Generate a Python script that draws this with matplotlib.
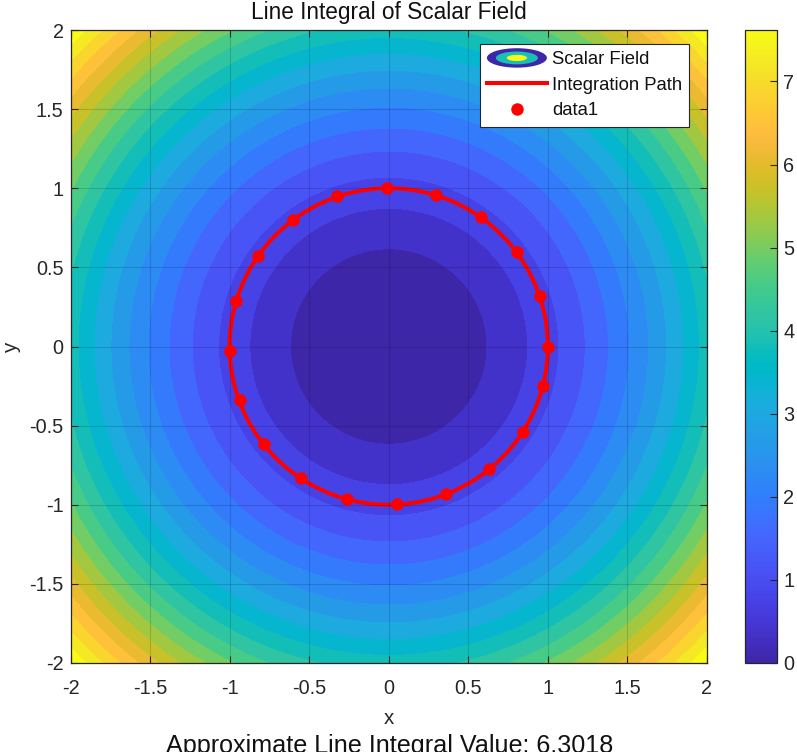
import numpy as np
import matplotlib
matplotlib.use("Agg")
import matplotlib.pyplot as plt
from matplotlib.colors import LinearSegmentedColormap, Normalize
from matplotlib.cm import ScalarMappable
from matplotlib.legend_handler import HandlerBase
from matplotlib.patches import Ellipse

plt.rcParams['font.family'] = ['Liberation Sans', 'DejaVu Sans']

PARULA = [
 (0.2422,0.1504,0.6603),(0.2504,0.1650,0.7076),(0.2578,0.1818,0.7511),(0.2647,0.1978,0.7952),
 (0.2706,0.2147,0.8364),(0.2751,0.2342,0.8710),(0.2783,0.2559,0.8991),(0.2803,0.2782,0.9221),
 (0.2813,0.3006,0.9414),(0.2810,0.3228,0.9579),(0.2795,0.3447,0.9717),(0.2760,0.3667,0.9829),
 (0.2699,0.3892,0.9906),(0.2602,0.4123,0.9952),(0.2440,0.4358,0.9988),(0.2206,0.4603,0.9973),
 (0.1963,0.4847,0.9892),(0.1834,0.5074,0.9798),(0.1786,0.5289,0.9682),(0.1764,0.5499,0.9520),
 (0.1687,0.5703,0.9359),(0.1540,0.5902,0.9218),(0.1460,0.6091,0.9079),(0.1380,0.6276,0.8973),
 (0.1248,0.6459,0.8883),(0.1113,0.6635,0.8763),(0.0952,0.6798,0.8598),(0.0689,0.6948,0.8394),
 (0.0297,0.7082,0.8163),(0.0036,0.7203,0.7917),(0.0067,0.7312,0.7660),(0.0433,0.7411,0.7394),
 (0.0964,0.7500,0.7120),(0.1408,0.7584,0.6842),(0.1717,0.7670,0.6554),(0.1938,0.7758,0.6251),
 (0.2161,0.7843,0.5923),(0.2470,0.7918,0.5567),(0.2906,0.7973,0.5188),(0.3406,0.8008,0.4789),
 (0.3909,0.8029,0.4354),(0.4456,0.8024,0.3909),(0.5044,0.7993,0.3480),(0.5616,0.7942,0.3045),
 (0.6174,0.7876,0.2612),(0.6720,0.7793,0.2227),(0.7242,0.7698,0.1910),(0.7738,0.7598,0.1646),
 (0.8203,0.7498,0.1535),(0.8634,0.7406,0.1596),(0.9035,0.7330,0.1774),(0.9393,0.7288,0.2100),
 (0.9728,0.7298,0.2394),(0.9956,0.7434,0.2371),(0.9970,0.7659,0.2199),(0.9952,0.7893,0.2028),
 (0.9892,0.8136,0.1885),(0.9786,0.8386,0.1766),(0.9676,0.8639,0.1643),(0.9610,0.8890,0.1537),
 (0.9597,0.9135,0.1423),(0.9628,0.9373,0.1265),(0.9691,0.9606,0.1064),(0.9769,0.9839,0.0805)]

# contour levels of the field (lower edge of each band)
levels = [0.0, 0.381, 0.762, 1.143, 1.524, 1.905, 2.286, 2.667, 3.048, 3.429, 3.810,
          4.190, 4.571, 4.952, 5.333, 5.714, 6.095, 6.476, 6.857, 7.238, 7.619]
field_max = 8.0
grid_x = np.linspace(-2, 2, 1201)
grid_y = np.linspace(-2, 2, 1201)

# sampled points on the path
point_x = [1.0, 0.95, 0.808, 0.582, 0.297, -0.013, -0.325, -0.603, -0.821, -0.957,
           -0.997, -0.936, -0.783, -0.553, -0.264, 0.05, 0.358, 0.632, 0.842, 0.969]
point_y = [0.0, 0.316, 0.597, 0.817, 0.957, 1.0, 0.948, 0.798, 0.572, 0.285,
           -0.029, -0.337, -0.613, -0.829, -0.961, -0.995, -0.93, -0.771, -0.538, -0.247]
path_radius = 1.0

x_ticks = [-2, -1.5, -1, -0.5, 0, 0.5, 1, 1.5, 2]
y_ticks = [-2, -1.5, -1, -0.5, 0, 0.5, 1, 1.5, 2]
tick_labels = ['-2', '-1.5', '-1', '-0.5', '0', '0.5', '1', '1.5', '2']
cbar_ticks = [0, 1, 2, 3, 4, 5, 6, 7]

W, H = 797, 752
DARK = '#262626'
TICK_FS = 14.3

fig = plt.figure(figsize=(W / 100, H / 100), dpi=100)
ax = fig.add_axes([70.5 / W, (H - 663) / H, 636.5 / W, 633 / H])

cmap = LinearSegmentedColormap.from_list('parula', PARULA, 256)
norm = Normalize(levels[0], levels[-1])

X, Y = np.meshgrid(grid_x, grid_y)
Z = X ** 2 + Y ** 2
band_colors = [cmap(norm(v)) for v in levels]
ax.contourf(X, Y, Z, levels=levels + [field_max], colors=band_colors, zorder=1)

theta = np.linspace(0, 2 * np.pi, 361)
ax.plot(path_radius * np.cos(theta), path_radius * np.sin(theta), color='#ff0000', lw=2.9, zorder=2,
        label='Integration Path')
ax.plot(point_x, point_y, 'o', color='#ff0000', ms=9, mew=0, zorder=3, label='data1')

ax.set_xlim(-2, 2)
ax.set_ylim(-2, 2)
ax.set_xticks(x_ticks, tick_labels)
ax.set_yticks(y_ticks, tick_labels)
ax.tick_params(direction='in', length=5, width=0.8, colors=DARK, labelsize=TICK_FS, top=True, right=True, pad=5)
ax.tick_params(axis='x', pad=11.5)
ax.set_axisbelow(False)
ax.grid(True, color='black', alpha=0.15, lw=0.75, zorder=4)
for s in ax.spines.values():
    s.set_linewidth(0.9)
    s.set_color(DARK)
    s.set_zorder(6)

ax.set_xlabel('x', fontsize=TICK_FS + 0.5, color=DARK, labelpad=8)
ax.set_ylabel('y', fontsize=TICK_FS + 0.5, color=DARK, labelpad=6)
ax.set_title('Line Integral of Scalar Field', fontsize=16.3, color='#111111', pad=8)

fig.text(389.5 / W, (H - 752.5) / H, 'Approximate Line Integral Value: 6.3018', fontsize=18.07,
         color='#111111', ha='center', va='baseline')

class ContourHandle:
    pass

class HandlerContour(HandlerBase):
    def create_artists(self, legend, orig, xd, yd, width, height, fontsize, trans):
        cx, cy = width / 2 - xd, height / 2 - yd
        arts = []
        for frac, fh, col in [(1.0, 1.0, PARULA[0]), (0.70, 0.66, PARULA[32]), (0.34, 0.32, PARULA[63])]:
            arts.append(Ellipse((cx, cy), width * frac, 14 * fh, facecolor=col, edgecolor='none', transform=trans))
        return arts

handles, labels = ax.get_legend_handles_labels()
leg = ax.legend([ContourHandle()] + handles, ['Scalar Field'] + labels,
                handler_map={ContourHandle: HandlerContour()},
                loc='upper left', bbox_to_anchor=(479.5 / W, (H - 44) / H), bbox_transform=fig.transFigure,
                borderaxespad=0, fontsize=13.3, fancybox=False, framealpha=1, edgecolor=DARK,
                handlelength=3.25, handletextpad=0.27, labelspacing=0.46, borderpad=0.4, numpoints=1)
leg.get_frame().set_linewidth(0.8)
leg.set_zorder(10)
for t in leg.get_texts():
    t.set_color('#111111')

cax = fig.add_axes([744.5 / W, (H - 663) / H, 32 / W, 633 / H])
cb = fig.colorbar(ScalarMappable(norm=norm, cmap=cmap), cax=cax)
cb.set_ticks(cbar_ticks)
cb.ax.tick_params(direction='in', length=5, width=0.8, colors=DARK, labelsize=TICK_FS, pad=5)
cb.outline.set_linewidth(0.9)
cb.outline.set_edgecolor(DARK)

fig.savefig('out.png', dpi=100)
